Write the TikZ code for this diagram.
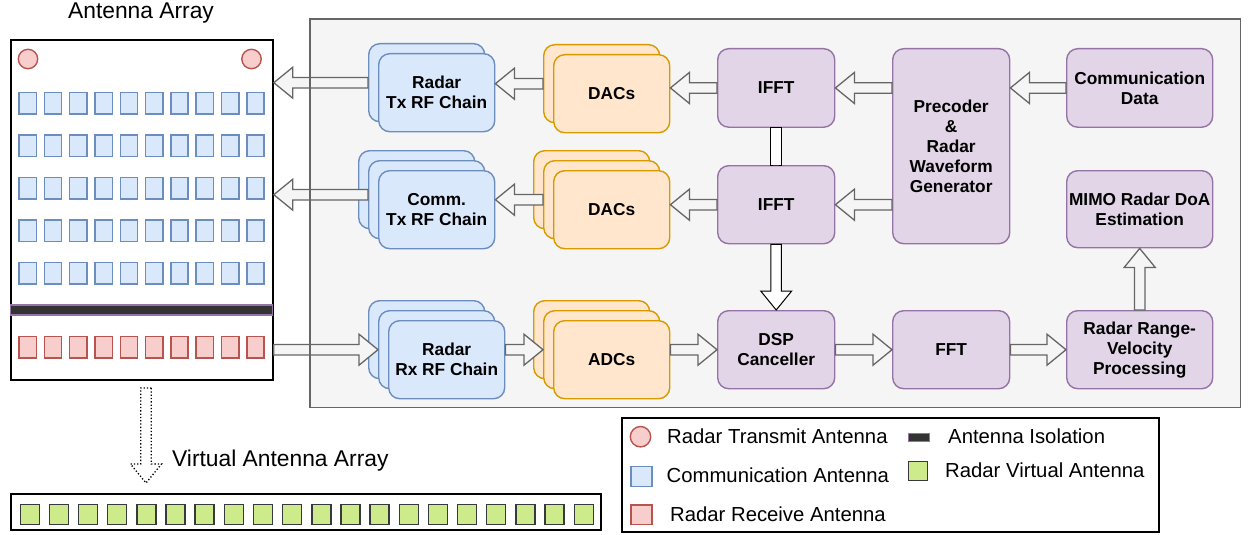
\documentclass[tikz,border=0pt]{standalone}
\usepackage{fontspec}
\setmainfont{Liberation Sans}
\usetikzlibrary{calc}

\definecolor{panelfill}{HTML}{F5F5F5}
\definecolor{panelline}{HTML}{666666}
\definecolor{bluefill}{HTML}{DAE8FC}
\definecolor{blueline}{HTML}{6C8EBF}
\definecolor{orfill}{HTML}{FFE6CC}
\definecolor{orline}{HTML}{D79B00}
\definecolor{pufill}{HTML}{E1D5E7}
\definecolor{puline}{HTML}{9673A6}
\definecolor{redfill}{HTML}{F8CECC}
\definecolor{redline}{HTML}{B85450}
\definecolor{grfill}{HTML}{CDEB8B}
\definecolor{grline}{HTML}{36393D}
\definecolor{isofill}{HTML}{333333}

\newcommand\lblfont{\bfseries\fontsize{17.3}{20}\selectfont}
\newcommand\legfont{\fontsize{20.3}{24}\selectfont}
\newcommand\ttlfont{\fontsize{22.8}{27}\selectfont}

% block-arrow geometry: shaft half width, head half width, head length
\newcommand\flexsw{5.25pt}
\newcommand\flexhw{15.5pt}
\newcommand\flexhl{19pt}

\tikzset{
  flex/.style={to path={
    let \p1=(\tikztostart), \p2=(\tikztotarget),
        \n1={veclen(\x2-\x1,\y2-\y1)},
        \n2={(\x2-\x1)/\n1}, \n3={(\y2-\y1)/\n1}
    in
    ({\x1-\flexsw*(\n3)},{\y1+\flexsw*(\n2)})
    -- ({\x2-\flexhl*(\n2)-\flexsw*(\n3)},{\y2-\flexhl*(\n3)+\flexsw*(\n2)})
    -- ({\x2-\flexhl*(\n2)-\flexhw*(\n3)},{\y2-\flexhl*(\n3)+\flexhw*(\n2)})
    -- (\x2,\y2)
    -- ({\x2-\flexhl*(\n2)+\flexhw*(\n3)},{\y2-\flexhl*(\n3)-\flexhw*(\n2)})
    -- ({\x2-\flexhl*(\n2)+\flexsw*(\n3)},{\y2-\flexhl*(\n3)-\flexsw*(\n2)})
    -- ({\x1+\flexsw*(\n3)},{\y1-\flexsw*(\n2)})
    -- cycle
  }},
  nohead/.code={\def\flexhl{0pt}\def\flexhw{\flexsw}},
  garrow/.style={draw=panelline, fill=panelfill, line width=1.3, line join=miter},
  warrow/.style={draw=black, fill=white, line width=1, line join=miter},
  box/.style={rounded corners=11, line width=1.4, inner sep=0, anchor=north west,
    font=\lblfont, align=center, text=black},
  bluebox/.style={box, draw=blueline, fill=bluefill, minimum width=116, minimum height=78},
  orbox/.style={box, draw=orline, fill=orfill, minimum width=116, minimum height=78},
  pubox/.style={box, draw=puline, fill=pufill},
  backdot/.style={path picture={\fill ([xshift=8.5,yshift=5]path picture bounding box.west) circle (0.9);}},
  csq/.style={draw=blueline, fill=bluefill, line width=1.5, minimum width=17.3,
    minimum height=21.7, inner sep=0, anchor=north west},
  rsq/.style={csq, draw=redline, fill=redfill},
  vsq/.style={draw=grline, fill=grfill, line width=1.4, minimum width=19,
    minimum height=20, inner sep=0, anchor=north west},
  txant/.style={circle, draw=redline, fill=redfill, line width=1.4, minimum size=19.4, inner sep=0},
  frame/.style={draw=black, fill=white, line width=1.8, inner sep=0, anchor=north west},
  legtxt/.style={font=\legfont, anchor=base west, inner sep=0},
}

\begin{document}
\begin{tikzpicture}[x=1pt,y=-1pt]
\useasboundingbox (0,0) rectangle (1248,535);

% ---------- processing panel ----------
\node[fill=panelfill, inner sep=0, anchor=north west, minimum width=930, minimum height=388]
  (panel) at (310,19) {};

% ---------- physical antenna array ----------
\node[font=\ttlfont, anchor=base, inner sep=0] (title) at (141,19) {Antenna Array};
\node[frame, minimum width=262, minimum height=340] (ant) at (10,39) {};
\node[txant] (tx1) at (28,59) {};
\node[txant] (tx2) at (251.5,59) {};
\foreach \r/\yy in {0/91.7,1/134,2/176.7,3/219,4/261.7}
  \foreach \c in {0,...,9}
    \node[csq] (c\r\c) at ({18.3+25.3*\c},\yy) {};
\node[draw=puline, fill=isofill, line width=1.4, inner sep=0, anchor=north west,
  minimum width=262, minimum height=10] (iso) at (10,304.3) {};
\foreach \c in {0,...,9}
  \node[rsq] (r\c) at ({18.3+25.3*\c},335.7) {};

% ---------- virtual antenna array ----------
\node[font=\ttlfont, anchor=base west, inner sep=0] (vtitle) at (172,466) {Virtual Antenna Array};
\node[frame, minimum width=590, minimum height=36] (vframe) at (10,493) {};
\foreach \c in {0,...,19}
  \node[vsq] (v\c) at ({19.5+29.16*\c},504) {};
\coordinate (vtop) at (146,388);
\coordinate (vtip) at (146,483);
\draw[draw=black, fill=white, line width=1.3, dotted, line join=miter] (vtop) to[flex] (vtip);

% ---------- transmit chains ----------
\node[bluebox, backdot] (rf1b) at (368,43) {};
\node[bluebox] (rf1) at (378,53) {Radar\\Tx RF Chain};

\node[bluebox, backdot] (crf2b) at (358,150) {};
\node[bluebox, backdot] (crf2m) at (368,160) {};
\node[bluebox] (crf2) at (378,170) {Comm.\\Tx RF Chain};

\node[bluebox, backdot] (rrfb) at (368,300) {};
\node[bluebox, backdot] (rrfm) at (378,310) {};
\node[bluebox] (rrf) at (388,320) {Radar\\Rx RF Chain};

\node[orbox] (dac1b) at (543,44) {};
\node[orbox] (dac1) at (553,54) {DACs};

\node[orbox] (dac2b) at (533,150) {};
\node[orbox] (dac2m) at (543,160) {};
\node[orbox] (dac2) at (553,170) {DACs};

\node[orbox] (adcb) at (533,300) {};
\node[orbox] (adcm) at (543,310) {};
\node[orbox] (adc) at (553,320) {ADCs};

% ---------- digital processing ----------
\node[pubox, minimum width=117, minimum height=78.5] (ifft1) at (717,48) {IFFT};
\node[pubox, minimum width=117, minimum height=78] (ifft2) at (717,165) {IFFT};
\node[pubox, minimum width=117, minimum height=195] (pre) at (892,48)
  {Precoder\\\&\\Radar\\Waveform\\Generator};
\node[pubox, minimum width=146, minimum height=78.5] (cdata) at (1066,48) {Communication\\Data};
\node[pubox, minimum width=146, minimum height=77] (mimo) at (1066,170) {MIMO Radar DoA\\Estimation};
\node[pubox, minimum width=117, minimum height=78] (dsp) at (717,310) {DSP\\Canceller};
\node[pubox, minimum width=117, minimum height=78] (fft) at (892,310) {FFT};
\node[pubox, minimum width=146, minimum height=78] (rng) at (1066,310) {Radar Range-\\Velocity\\Processing};

% ---------- block arrows ----------
\coordinate (crf2out) at ([yshift=5]crf2m.west);
\draw[garrow] (rf1b.west) to[flex] (ant.east |- rf1b.west);
\draw[garrow] (crf2out) to[flex] (ant.east |- crf2out);
\draw[garrow] (ant.east |- rrfm.west) to[flex] (rrfm.west);

\draw[garrow] (dac1b.west) to[flex] (rf1.east |- dac1b.west);
\draw[garrow] (dac2m.west) to[flex] (crf2.east |- dac2m.west);
\draw[garrow] (rrf.east |- adcm.west) to[flex] (adcm.west);

\draw[garrow] (ifft1.west) to[flex] (dac1.east |- ifft1.west);
\draw[garrow] (ifft2.west) to[flex] (dac2.east |- ifft2.west);
\draw[garrow] (adc.east |- dsp.west) to[flex] (dsp.west);

\draw[garrow] (pre.west |- ifft1.west) to[flex] (ifft1.east);
\draw[garrow] (pre.west |- ifft2.west) to[flex] (ifft2.east);
\draw[garrow] (cdata.west) to[flex] (pre.east |- cdata.west);

\draw[garrow] (dsp.east) to[flex] (fft.west);
\draw[garrow] (fft.east) to[flex] (rng.west);
\draw[garrow] (rng.north) to[flex] (mimo.south);

\draw[warrow, nohead] (ifft1.south) to[flex] (ifft2.north);
\draw[warrow] (ifft2.south) to[flex] (dsp.north);

% panel outline over the arrows that leave it
\draw[draw=panelline, line width=1.5] (panel.north west) rectangle (panel.south east);

% ---------- legend ----------
\node[frame, line width=1.5, minimum width=537, minimum height=114] (legend) at (621,417) {};
\node[txant, minimum size=20.4] (ltx) at (640.5,436.7) {};
\node[legtxt] (ltxt1) at (667,443.3) {Radar Transmit Antenna};
\node[csq, minimum width=21, minimum height=20] (lcom) at (630,465.5) {};
\node[legtxt] (ltxt2) at (666.5,482.3) {Communication Antenna};
\node[rsq, minimum width=21, minimum height=19.5] (lrx) at (630,504.3) {};
\node[legtxt] (ltxt3) at (670,521) {Radar Receive Antenna};
\node[draw=puline, fill=isofill, line width=1.4, inner sep=0, anchor=north west,
  minimum width=21, minimum height=8] (liso) at (908,433) {};
\node[legtxt] (ltxt4) at (948,443.3) {Antenna Isolation};
\node[vsq, minimum width=19, minimum height=19] (lvirt) at (908,461) {};
\node[legtxt] (ltxt5) at (945,477.3) {Radar Virtual Antenna};
\end{tikzpicture}
\end{document}
